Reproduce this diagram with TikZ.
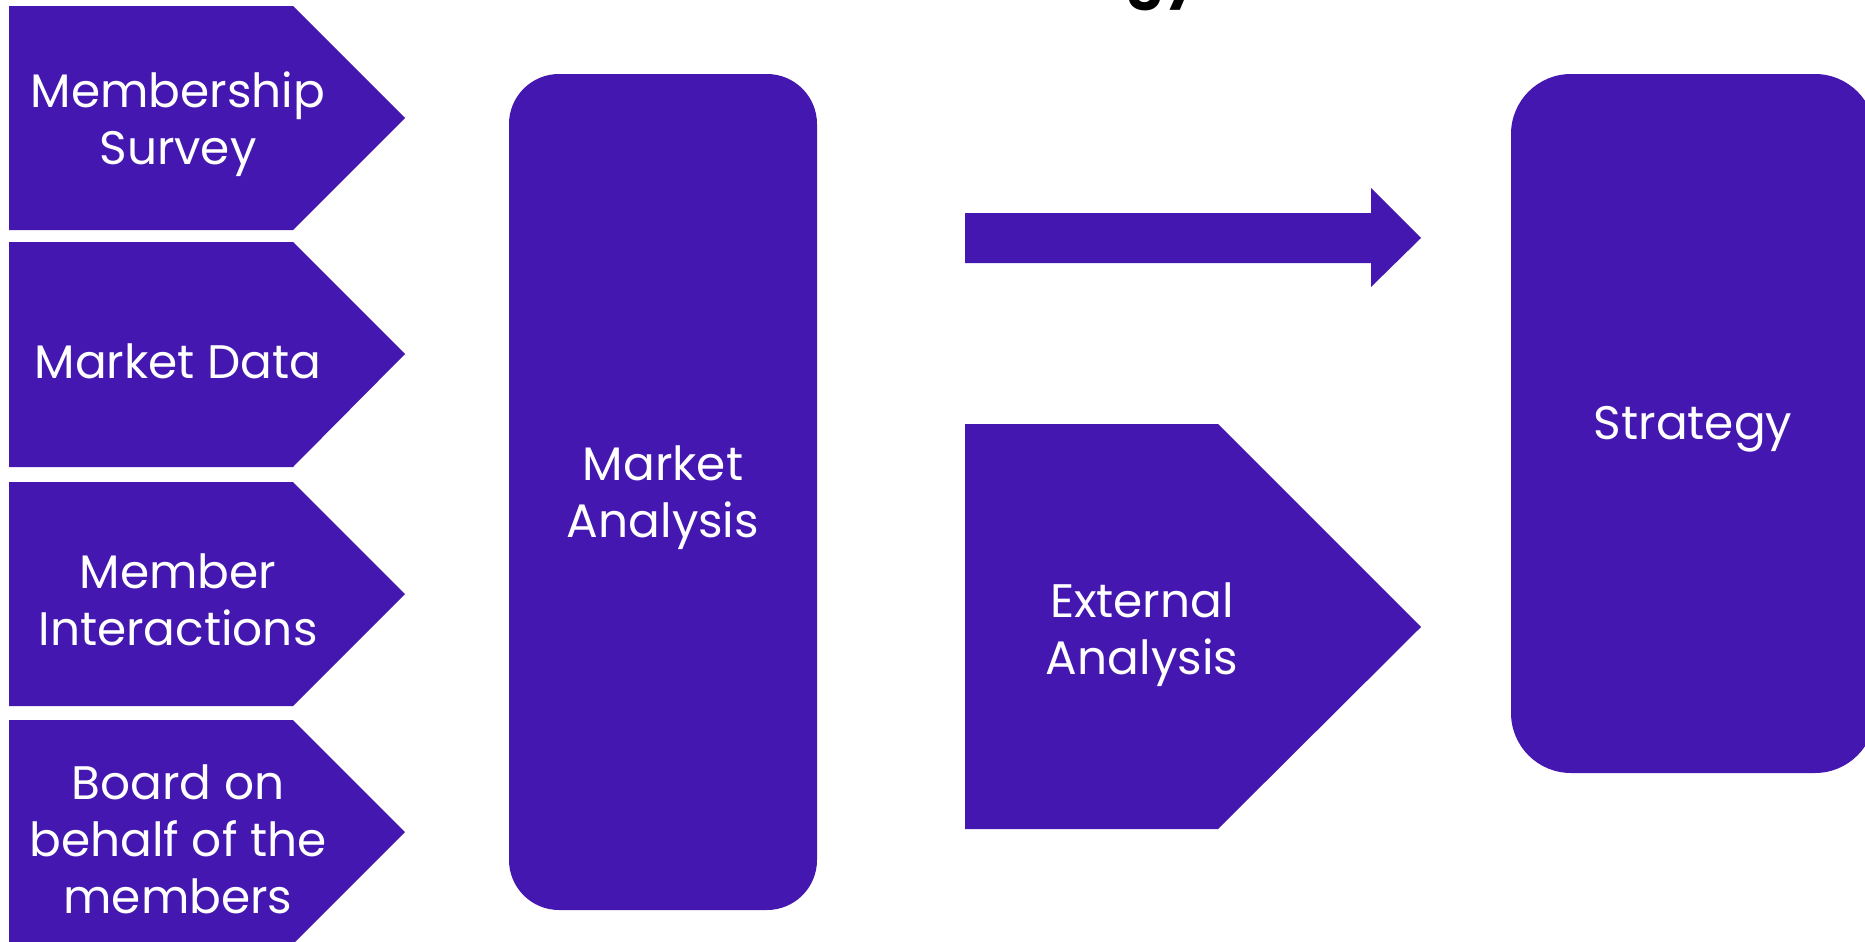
\documentclass[tikz,border=0pt]{standalone}
\usepackage{fontspec}
\setmainfont{Poppins}
\definecolor{purp}{RGB}{69,23,177}

\begin{document}
\begin{tikzpicture}[x=0.5pt,y=-0.5pt,
    shapefill/.style={fill=purp},
    lbl/.style={text=white, align=center, yshift=-3pt, font=\fontsize{23.5}{28.5}\selectfont}]
    \useasboundingbox (0,0) rectangle (1865,942);

    % Title, cut off by the top edge
    \node[anchor=base east, inner sep=0, font=\bfseries\fontsize{28}{30}\selectfont] (title) at (1200,-4) {Strategy};

    % Input pentagons
    \fill[shapefill] (9,6) -- (293,6) -- (405,118) -- (293,230) -- (9,230) -- cycle;
    \node[lbl] (survey) at (178,118) {Membership\\Survey};

    \fill[shapefill] (9,242) -- (293,242) -- (405,354) -- (293,467) -- (9,467) -- cycle;
    \node[lbl] (data) at (178,355) {Market Data};

    \fill[shapefill] (9,482) -- (293,482) -- (405,594) -- (293,706) -- (9,706) -- cycle;
    \node[lbl] (interact) at (178,594) {Member\\Interactions};

    \fill[shapefill] (9,720) -- (293,720) -- (405,832) -- (293,944) -- (9,944) -- cycle;
    \node[lbl] (board) at (178,833) {Board on\\behalf of the\\members};

    % Market analysis column
    \node[shapefill, lbl, yshift=3pt, rounded corners=25pt, minimum width=154pt, minimum height=418pt] (market) at (663,492) {};
    \node[lbl] (marketlbl) at (market.center) {Market\\Analysis};

    % Big arrow
    \fill[shapefill] (965,213) -- (1371,213) -- (1371,188) -- (1421,238) -- (1371,287) -- (1371,263) -- (965,263) -- cycle;

    % External analysis
    \fill[shapefill] (965,424) -- (1218,424) -- (1421,627) -- (1218,829) -- (965,829) -- cycle;
    \node[lbl] (external) at (1142,629) {External\\Analysis};

    % Strategy column
    \node[shapefill, lbl, yshift=3pt, rounded corners=30pt, minimum width=182pt, minimum height=349.5pt] (strategy) at (1693,423.5) {};
    \node[lbl] (strategylbl) at (strategy.center) {Strategy};
\end{tikzpicture}
\end{document}
